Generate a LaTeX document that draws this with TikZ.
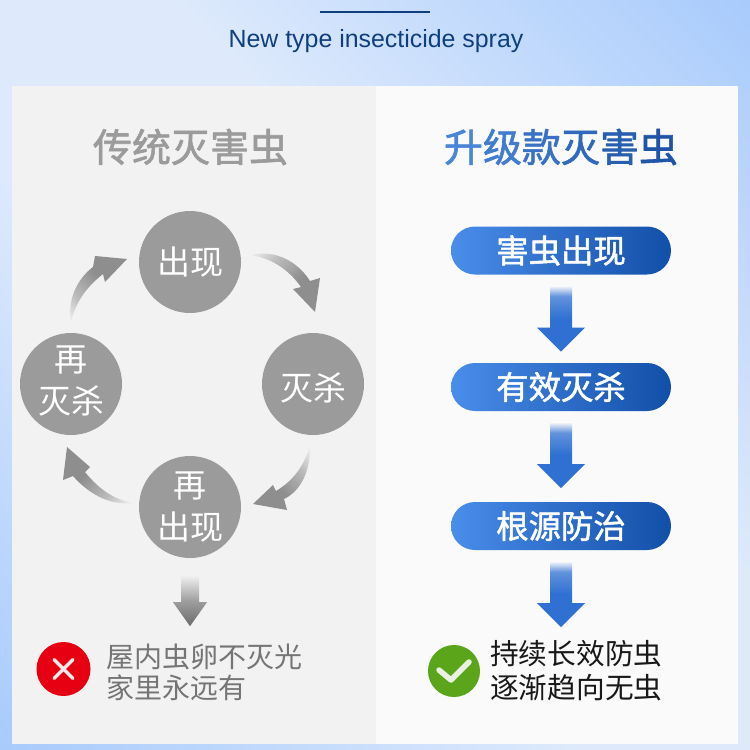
\documentclass[tikz,border=0pt]{standalone}
\usepackage{fontspec}
\setmainfont{Liberation Sans}
\newfontfamily\cjk[FakeBold=1.6]{Noto Sans CJK SC}
\newfontfamily\cjkthin{Noto Sans CJK SC}
\usetikzlibrary{calc}

\definecolor{bgBlue}{HTML}{A8CBFC}
\definecolor{bgPale}{HTML}{DEEAFC}
\definecolor{panelGray}{HTML}{F2F2F2}
\definecolor{panelWhite}{HTML}{FAFAFA}
\definecolor{discGray}{HTML}{9B9B9B}
\definecolor{swirlGray}{HTML}{8E8E8E}
\definecolor{navyText}{HTML}{0F3F7F}
\definecolor{titleL}{HTML}{4A86D8}
\definecolor{titleR}{HTML}{1F55A8}
\definecolor{pillL}{HTML}{4A8DEA}
\definecolor{pillR}{HTML}{124FA8}
\definecolor{flowBlue}{HTML}{2F70D2}
\definecolor{crossRed}{HTML}{E60012}
\definecolor{tickGreen}{HTML}{5AA51A}

\pgfdeclarehorizontalshading{bgfade}{100bp}{color(0bp)=(bgBlue); color(14.6bp)=(bgBlue); color(42bp)=(bgPale); color(58bp)=(bgPale); color(85.4bp)=(bgBlue); color(100bp)=(bgBlue)}
\pgfdeclareverticalshading{bluefade}{100bp}{color(0bp)=(flowBlue); color(50bp)=(flowBlue); color(67bp)=(flowBlue!75!panelWhite); color(75bp)=(panelWhite); color(100bp)=(panelWhite)}
\pgfdeclareverticalshading{grayfade}{100bp}{color(0bp)=(black!58); color(25bp)=(black!58); color(50bp)=(black!38); color(75bp)=(panelGray); color(100bp)=(panelGray)}
\pgfdeclareverticalshading{swirlfade}{100bp}{color(0bp)=(swirlGray); color(42bp)=(swirlGray); color(66bp)=(swirlGray!55!panelGray); color(84bp)=(panelGray); color(100bp)=(panelGray)}

\tikzset{
  disc/.style={circle, fill=discGray, minimum size=102pt, inner sep=0pt, text=white, align=center, font=\cjkthin\fontsize{33}{42}\selectfont},
  pill/.style={rounded corners=24pt, minimum width=220pt, minimum height=48pt, inner sep=0pt, left color=pillL, right color=pillR, text=white, font=\cjk\fontsize{32.4}{32.4}\selectfont},
  swirl/.style={shading=swirlfade},
  verdict/.style={anchor=west, inner sep=0pt, align=left, font=\cjkthin\fontsize{28}{31}\selectfont},
  badge/.style={circle, minimum size=52pt, inner sep=0pt}
}

\begin{document}
\begin{tikzpicture}[x=1pt, y=-1pt, line cap=round, line join=round]
  \useasboundingbox (0,0) rectangle (750,750);

  % Backdrop and the two panels
  \shade[shading=bgfade, shading angle=45] (0,0) rectangle (750,750);
  \fill[panelGray] (12,86) rectangle (376,744);
  \fill[panelWhite] (376,86) rectangle (738,744);

  % Header
  \coordinate (ruleL) at (320,12);
  \coordinate (ruleR) at (430,12);
  \draw[navyText, line width=1.8pt, line cap=butt] (ruleL) -- (ruleR);
  \node[text=navyText, inner sep=0pt, font=\fontsize{24.9}{24.9}\selectfont] (header) at (376,41) {New type insecticide spray};

  % Panel titles
  \node[text=discGray, inner sep=0pt, font=\cjk\fontsize{39}{39}\selectfont] (oldTitle) at (190.5,147) {传统灭害虫};
  \node[inner sep=0pt, font=\cjk\fontsize{39}{39}\selectfont] (newTitle) at (561,147) {\textcolor{titleL}{升}\textcolor{titleL!80!titleR}{级}\textcolor{titleL!60!titleR}{款}\textcolor{titleL!40!titleR}{灭}\textcolor{titleL!20!titleR}{害}\textcolor{titleR}{虫}};

  % Left: the cycle
  \node[disc] (appear) at (190,262) {出现};
  \node[disc] (kill) at (313,384) {\rule{0pt}{36pt}灭杀};
  \node[disc] (reappear) at (190,507) {再\\出现};
  \node[disc] (rekill) at (71,384) {再\\灭杀\rule[-9pt]{0pt}{9pt}};

  % Curved arrows between the discs
  \shade[swirl, shading angle=45] (250,255) .. controls (276,249) and (298,262) .. (310,281) -- (320,278) -- (315,312) -- (293,289) -- (301,287) .. controls (289,270) and (272,258) .. cycle;
  \shade[swirl, shading angle=-45] (310,445) .. controls (311,470) and (301,491) .. (284,499) -- (287,510) -- (253,504) -- (273,485) -- (276,491) .. controls (291,482) and (304,468) .. cycle;
  \shade[swirl, shading angle=-135] (133,503) .. controls (108,506) and (87,492) .. (73,476) -- (63,480) -- (67,447) -- (90,467) -- (85,472) .. controls (98,488) and (112,499) .. cycle;
  \shade[swirl, shading angle=135] (71,322) .. controls (67,300) and (77,279) .. (93,267) -- (95,256) -- (127,259) -- (105,282) -- (103,274) .. controls (89,285) and (76,300) .. cycle;

  % Left: outcome
  \shade[shading=grayfade, shift={(reappear.south)}] (-9,17) -- (9,17) -- (9,44) -- (17,44) -- (0,68) -- (-17,44) -- (-9,44) -- cycle;
  \node[badge, fill=crossRed, minimum size=54pt] (cross) at (63.5,669) {};
  \draw[white!92!crossRed, line width=3.3pt] ($(cross)+(-9.5,-9.5)$) -- ($(cross)+(9.5,9.5)$);
  \draw[white!92!crossRed, line width=3.3pt] ($(cross)+(-9.5,9.5)$) -- ($(cross)+(9.5,-9.5)$);
  \node[verdict, text=black!54] (oldResult) at (106,672.5) {屋内虫卵不灭光\\家里永远有};

  % Right: the steps
  \node[pill] (stepA) at (561,250.5) {害虫出现};
  \node[pill] (stepB) at (561,387) {有效灭杀};
  \node[pill] (stepC) at (561,526) {根源防治};

  \foreach \src in {stepA,stepB,stepC}
    \shade[shading=bluefade, shift={(\src.south)}] (-11,11) -- (11,11) -- (11,53) -- (24,53) -- (0,77) -- (-24,53) -- (-11,53) -- cycle;

  % Right: outcome
  \node[badge, fill=tickGreen] (tick) at (454,671) {};
  \draw[panelWhite!90!tickGreen, line width=5.5pt] ($(tick)+(-15,-1)$) -- ($(tick)+(-3,9)$) -- ($(tick)+(15,-9)$);
  \node[verdict, text=black!90, font=\cjkthin\fontsize{28.7}{34}\selectfont] (newResult) at (490,671) {持续长效防虫\\逐渐趋向无虫};
\end{tikzpicture}
\end{document}
